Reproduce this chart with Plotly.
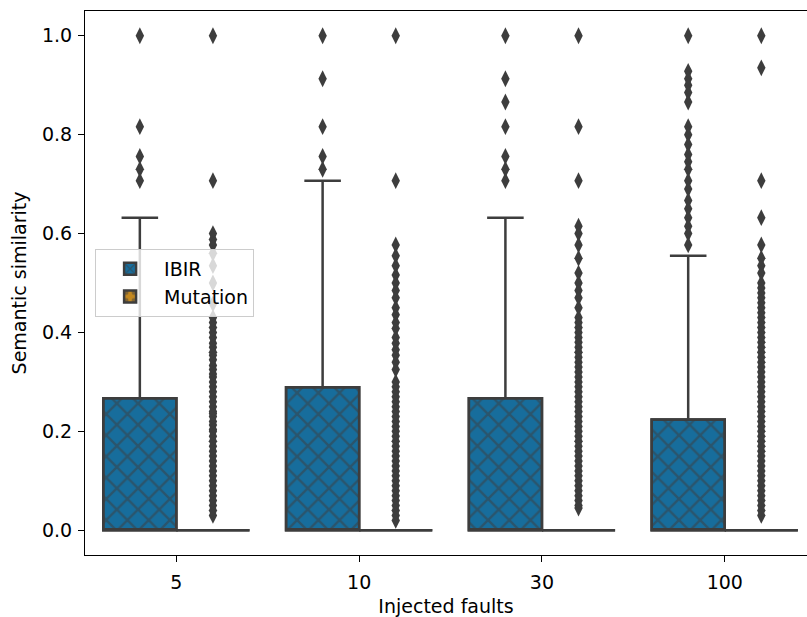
import plotly.graph_objects as go

categories = ["5", "10", "30", "100"]

# IBIR box statistics (per category)
ibir_q1 = [0.0, 0.0, 0.0, 0.0]
ibir_median = [0.0, 0.0, 0.0, 0.0]
ibir_q3 = [0.267, 0.289, 0.267, 0.224]
ibir_lower = [0.0, 0.0, 0.0, 0.0]
ibir_upper = [0.632, 0.707, 0.632, 0.555]

# Mutation box statistics (per category)
mut_q1 = [0.0, 0.0, 0.0, 0.0]
mut_median = [0.0, 0.0, 0.0, 0.0]
mut_q3 = [0.0, 0.0, 0.0, 0.0]
mut_lower = [0.0, 0.0, 0.0, 0.0]
mut_upper = [0.0, 0.0, 0.0, 0.0]

# Outliers
ibir_out_5 = [1.0, 0.816, 0.756, 0.73, 0.707]
ibir_out_10 = [1.0, 0.913, 0.816, 0.756, 0.73]
ibir_out_30 = [1.0, 0.913, 0.866, 0.816, 0.756, 0.73, 0.707]
ibir_out_100 = [1.0, 0.928, 0.913, 0.9, 0.885, 0.866, 0.816, 0.8, 0.78, 0.76,
                0.745, 0.73, 0.707, 0.69, 0.667, 0.65, 0.632, 0.615, 0.6, 0.577]

mut_out_5 = [1.0, 0.707, 0.6, 0.588, 0.577, 0.56, 0.535, 0.5, 0.458, 0.43, 0.42,
             0.41, 0.4, 0.39, 0.378, 0.37, 0.36, 0.354, 0.345, 0.333, 0.325,
             0.316, 0.31, 0.3, 0.29, 0.28, 0.27, 0.26, 0.25, 0.24, 0.236, 0.23,
             0.22, 0.213, 0.204, 0.2, 0.19, 0.18, 0.17, 0.16, 0.15, 0.14, 0.13,
             0.12, 0.11, 0.1, 0.09, 0.08, 0.07, 0.06, 0.05, 0.04, 0.03]
mut_out_10 = [1.0, 0.707, 0.577, 0.555, 0.535, 0.516, 0.5, 0.485, 0.47, 0.45,
              0.436, 0.42, 0.408, 0.39, 0.378, 0.365, 0.354, 0.34, 0.325, 0.3,
              0.29, 0.28, 0.27, 0.26, 0.25, 0.24, 0.23, 0.22, 0.21, 0.2, 0.19,
              0.18, 0.17, 0.16, 0.15, 0.14, 0.13, 0.12, 0.11, 0.1, 0.09, 0.08,
              0.07, 0.06, 0.05, 0.04, 0.03, 0.02]
mut_out_30 = [1.0, 0.816, 0.707, 0.615, 0.6, 0.577, 0.55, 0.52, 0.5, 0.485, 0.47,
              0.45, 0.43, 0.42, 0.41, 0.4, 0.39, 0.38, 0.37, 0.36, 0.35, 0.34,
              0.33, 0.32, 0.31, 0.3, 0.29, 0.28, 0.27, 0.26, 0.25, 0.24, 0.23,
              0.22, 0.21, 0.2, 0.19, 0.18, 0.17, 0.16, 0.15, 0.14, 0.13, 0.12,
              0.11, 0.1, 0.09, 0.08, 0.07, 0.06, 0.05, 0.045]
mut_out_100 = [1.0, 0.935, 0.707, 0.632, 0.577, 0.55, 0.535, 0.52, 0.5, 0.49,
               0.48, 0.47, 0.46, 0.45, 0.44, 0.43, 0.42, 0.41, 0.4, 0.39, 0.38,
               0.37, 0.36, 0.35, 0.34, 0.33, 0.32, 0.31, 0.3, 0.29, 0.28, 0.27,
               0.26, 0.25, 0.24, 0.23, 0.22, 0.21, 0.2, 0.19, 0.18, 0.17, 0.16,
               0.15, 0.14, 0.13, 0.12, 0.11, 0.1, 0.09, 0.08, 0.07, 0.06, 0.05,
               0.04, 0.03]

ibir_outliers = [ibir_out_5, ibir_out_10, ibir_out_30, ibir_out_100]
mut_outliers = [mut_out_5, mut_out_10, mut_out_30, mut_out_100]

BLUE = "#176d9c"
ORANGE = "#c38820"
GRAY = "#3d3d3d"
FONT = "DejaVu Sans"
FS = 19

pos = list(range(len(categories)))
off = 0.2
bw = 0.4

fig = go.Figure()

for name, col, shape, q1, med, q3, lo, hi, outs, sgn in [
    ("IBIR", BLUE, "x", ibir_q1, ibir_median, ibir_q3, ibir_lower, ibir_upper, ibir_outliers, -1),
    ("Mutation", ORANGE, ".", mut_q1, mut_median, mut_q3, mut_lower, mut_upper, mut_outliers, 1),
]:
    xs = [p + sgn * off for p in pos]
    # hatched fill of the box
    fig.add_trace(go.Bar(
        x=xs, y=[b - a for a, b in zip(q1, q3)], base=q1, width=bw,
        name=name, showlegend=True,
        marker=dict(color=col, line=dict(color=GRAY, width=2.5),
                    pattern=dict(shape=shape, fgcolor=GRAY, size=15, solidity=0.3)),
        hoverinfo="skip",
    ))
    # box outline, median and whiskers
    fig.add_trace(go.Box(
        x=xs, q1=q1, median=med, q3=q3, lowerfence=lo, upperfence=hi,
        width=bw, whiskerwidth=0.5, boxpoints=False,
        fillcolor="rgba(0,0,0,0)", line=dict(color=GRAY, width=2.5),
        showlegend=False, name=name,
    ))
    # outliers
    ox, oy = [], []
    for p, vals in zip(xs, outs):
        ox += [p] * len(vals)
        oy += vals
    fig.add_trace(go.Scatter(
        x=ox, y=oy, mode="markers", showlegend=False,
        marker=dict(symbol="diamond-tall", size=12, color=GRAY,
                    line=dict(width=0)),
    ))

fig.update_layout(
    width=807, height=617,
    margin=dict(l=85, r=0, t=11, b=62),
    plot_bgcolor="white", paper_bgcolor="white",
    font=dict(family=FONT, size=FS, color="black"),
    barmode="overlay",
    legend=dict(x=0.014, y=0.5, xanchor="left", yanchor="middle",
                bgcolor="rgba(255,255,255,0.8)", bordercolor="#cccccc",
                borderwidth=1, font=dict(size=FS), itemwidth=58,
                tracegroupgap=2),
)
fig.update_xaxes(
    range=[-0.5, 3.45], tickmode="array", tickvals=pos, ticktext=categories,
    showline=True, linecolor="black", linewidth=1.2, mirror=True,
    ticks="outside", ticklen=6, tickcolor="black", showgrid=False, zeroline=False,
    ticklabelstandoff=4,
    title=dict(text="Injected faults", font=dict(size=FS), standoff=8),
    tickfont=dict(size=FS),
)
fig.update_yaxes(
    range=[-0.05, 1.05], tickvals=[0, 0.2, 0.4, 0.6, 0.8, 1.0], tickformat=".1f",
    showline=True, linecolor="black", linewidth=1.2, mirror=False,
    ticks="outside", ticklen=6, tickcolor="black", showgrid=False, zeroline=False,
    ticklabelstandoff=2,
    title=dict(text="Semantic similarity", font=dict(size=FS), standoff=10),
    tickfont=dict(size=FS),
)

fig.write_html("out.html")
